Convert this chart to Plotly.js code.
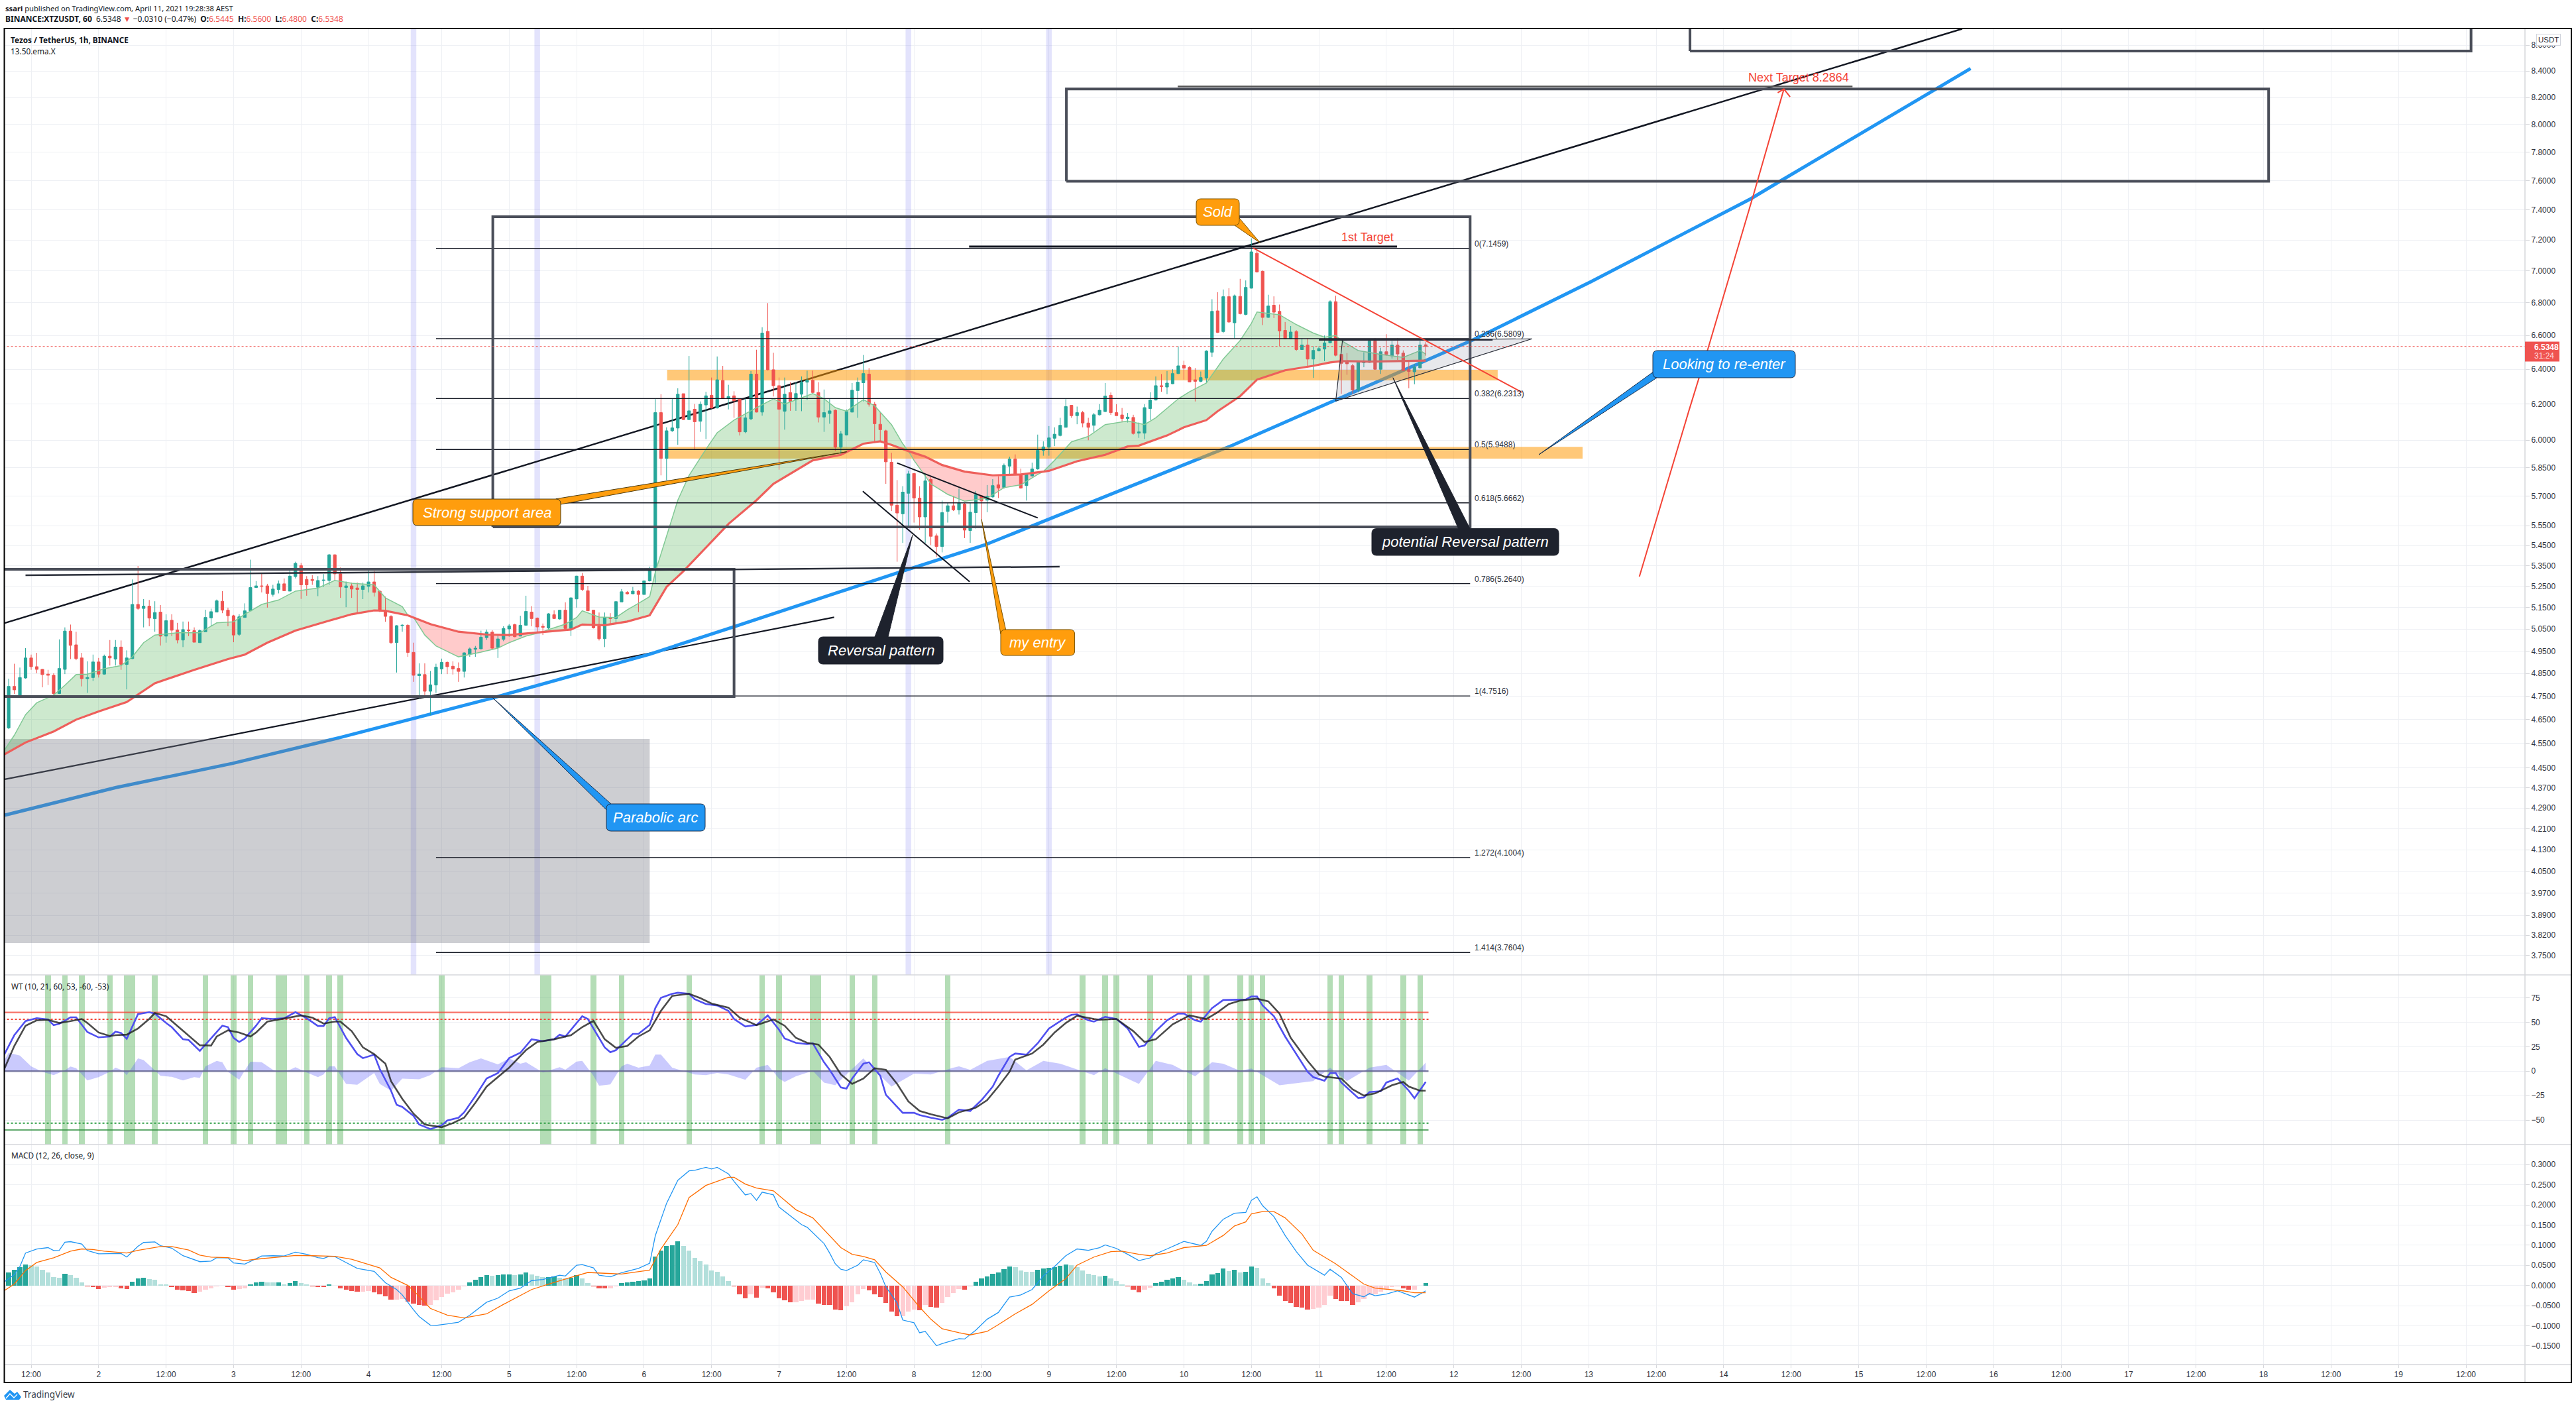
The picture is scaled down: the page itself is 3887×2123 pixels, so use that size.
<!DOCTYPE html>
<html><head><meta charset="utf-8">
<script src="https://cdn.plot.ly/plotly-2.35.2.min.js"></script>
<style>html,body{margin:0;padding:0;background:#fff;overflow:hidden}</style></head>
<body><div id="chart" style="width:3887px;height:2123px"></div>
<script>
const firstBar = -4;
const opens = [4.615,4.793,4.751,4.830,4.919,4.880,4.868,4.847,4.842,4.762,
4.868,5.041,4.978,4.919,4.827,4.832,4.901,4.847,4.927,4.914,
4.968,4.890,4.916,5.165,5.146,5.157,5.098,5.129,5.018,5.091,
5.046,5.000,5.046,5.043,4.988,5.038,5.102,5.129,5.180,5.138,
5.112,5.026,5.104,5.135,5.245,5.253,5.253,5.212,5.236,5.263,
5.228,5.298,5.351,5.284,5.284,5.246,5.279,5.279,5.404,5.311,
5.245,5.253,5.243,5.236,5.251,5.272,5.228,5.135,5.109,4.988,
5.066,5.068,4.944,4.840,4.845,4.772,4.799,4.870,4.899,4.882,
4.872,4.859,4.936,4.958,4.960,5.011,5.036,4.966,5.003,5.051,
5.071,5.018,5.068,5.129,5.101,5.063,5.055,5.117,5.097,5.138,
5.053,5.191,5.300,5.230,5.138,5.063,5.006,5.104,5.099,5.177,
5.222,5.215,5.228,5.212,5.277,5.330,6.152,5.900,6.051,6.066,
6.259,6.113,6.171,6.104,6.195,6.250,6.178,6.335,6.232,6.247,
6.230,6.045,6.117,6.372,6.155,6.625,6.397,6.305,6.160,6.266,
6.226,6.256,6.325,6.336,6.266,6.127,6.147,6.165,5.961,6.028,
6.155,6.277,6.322,6.372,6.199,6.087,6.051,5.880,5.654,5.610,
5.716,5.820,5.691,5.594,5.788,5.498,5.445,5.622,5.651,5.630,
5.660,5.525,5.616,5.703,5.680,5.697,5.760,5.746,5.859,5.897,
5.815,5.756,5.807,5.844,5.944,5.961,6.010,6.025,6.070,6.193,
6.135,6.152,6.094,6.081,6.140,6.158,6.250,6.152,6.139,6.119,
6.125,6.038,6.038,6.175,6.223,6.305,6.297,6.316,6.375,6.423,
6.410,6.339,6.330,6.349,6.500,6.750,6.624,6.838,6.677,6.840,
6.728,6.891,7.114,6.998,6.710,6.785,6.747,6.631,6.580,6.624,
6.516,6.543,6.460,6.508,6.519,6.556,6.807,6.487,6.448,6.421,
6.280,6.438,6.440,6.567,6.400,6.503,6.479,6.543,6.495,6.400,
6.385,6.408,6.5445];
const highs = [4.827,4.893,4.876,4.963,4.934,4.942,4.870,4.866,4.851,5.003,
5.058,5.071,5.038,4.942,4.904,4.934,4.919,4.934,5.000,5.000,
4.998,4.953,5.284,5.349,5.190,5.186,5.180,5.162,5.119,5.119,
5.079,5.085,5.085,5.058,5.048,5.140,5.145,5.188,5.228,5.150,
5.116,5.119,5.170,5.380,5.276,5.311,5.263,5.258,5.279,5.289,
5.337,5.370,5.364,5.300,5.305,5.300,5.310,5.408,5.406,5.342,
5.274,5.269,5.269,5.269,5.327,5.325,5.228,5.202,5.114,5.068,
5.073,5.073,4.988,4.895,4.895,4.861,4.893,4.916,4.904,4.904,
4.899,4.944,4.966,4.973,5.043,5.048,5.045,5.023,5.063,5.073,
5.075,5.112,5.206,5.157,5.104,5.076,5.124,5.137,5.139,5.175,
5.198,5.302,5.315,5.253,5.138,5.127,5.127,5.124,5.180,5.238,
5.228,5.248,5.233,5.279,5.346,6.229,6.256,6.070,6.229,6.290,
6.259,6.478,6.201,6.215,6.270,6.352,6.475,6.420,6.310,6.273,
6.232,6.236,6.390,6.515,6.650,6.798,6.497,6.352,6.352,6.325,
6.325,6.358,6.392,6.392,6.325,6.283,6.229,6.170,6.050,6.170,
6.320,6.352,6.484,6.407,6.212,6.155,6.057,5.931,5.785,5.753,
5.834,5.822,5.753,5.815,5.803,5.510,5.678,5.666,5.703,5.740,
5.666,5.666,5.728,5.706,5.759,5.790,5.805,5.873,5.910,5.922,
5.846,5.815,5.878,6.030,5.993,6.077,6.070,6.123,6.233,6.193,
6.186,6.162,6.123,6.150,6.200,6.320,6.266,6.200,6.178,6.150,
6.140,6.097,6.200,6.267,6.358,6.372,6.390,6.400,6.535,6.450,
6.420,6.407,6.387,6.512,6.822,6.866,6.883,6.891,6.851,6.950,
6.940,7.211,7.132,7.004,6.850,6.840,6.789,6.682,6.657,6.632,
6.583,6.583,6.535,6.535,6.600,6.815,6.844,6.490,6.495,6.432,
6.451,6.500,6.575,6.583,6.527,6.608,6.567,6.583,6.511,6.448,
6.432,6.567,6.560];
const lows = [4.610,4.760,4.748,4.827,4.866,4.851,4.789,4.799,4.743,4.760,
4.847,4.914,4.909,4.793,4.765,4.817,4.832,4.845,4.885,4.885,
4.866,4.780,4.914,5.140,5.058,5.063,5.038,4.975,4.988,5.018,
4.985,4.968,5.018,4.990,4.988,5.038,5.063,5.129,5.124,5.063,
4.990,5.018,5.104,5.135,5.243,5.222,5.150,5.202,5.217,5.228,
5.228,5.289,5.191,5.206,5.258,5.204,5.248,5.258,5.279,5.196,
5.152,5.196,5.124,5.190,5.222,5.202,5.129,5.084,4.983,4.854,
5.038,4.924,4.813,4.741,4.746,4.669,4.765,4.847,4.847,4.845,
4.813,4.832,4.924,4.924,4.958,5.000,4.958,4.919,4.995,5.015,
5.013,5.018,5.066,5.063,5.033,5.023,5.048,5.097,5.094,5.051,
5.018,5.150,5.228,5.135,5.053,4.998,4.968,5.073,5.073,5.177,
5.212,5.215,5.129,5.212,5.274,5.267,5.810,5.785,6.045,5.974,
6.110,6.110,5.949,6.045,6.005,6.175,6.175,6.230,6.170,6.123,
6.025,6.038,6.110,6.153,6.135,6.393,6.243,5.840,6.057,6.162,
6.162,6.160,6.223,6.256,6.097,6.045,6.090,5.941,5.922,6.025,
6.153,6.123,6.215,6.186,5.993,5.993,5.765,5.624,5.370,5.463,
5.547,5.565,5.529,5.463,5.452,5.393,5.416,5.565,5.624,5.606,
5.487,5.463,5.535,5.582,5.618,5.693,5.691,5.740,5.815,5.810,
5.740,5.678,5.803,5.840,5.915,5.915,5.967,6.020,6.070,6.123,
6.087,6.070,5.999,6.045,6.135,6.155,6.139,6.135,6.103,6.097,
6.030,6.012,6.005,6.110,6.220,6.270,6.256,6.314,6.372,6.340,
6.325,6.215,6.325,6.320,6.472,6.615,6.615,6.677,6.583,6.728,
6.723,6.889,6.990,6.663,6.707,6.706,6.536,6.577,6.577,6.508,
6.514,6.412,6.350,6.505,6.448,6.553,6.476,6.259,6.368,6.259,
6.267,6.412,6.438,6.397,6.373,6.480,6.463,6.455,6.390,6.290,
6.313,6.405,6.480];
const closes = [4.793,4.778,4.832,4.919,4.880,4.868,4.845,4.842,4.762,4.872,
5.041,4.976,4.916,4.827,4.832,4.901,4.847,4.927,4.919,4.968,
4.890,4.919,5.165,5.146,5.157,5.101,5.127,5.018,5.089,5.045,
5.000,5.048,5.043,4.990,5.043,5.104,5.131,5.182,5.138,5.112,
5.023,5.107,5.135,5.245,5.253,5.251,5.217,5.238,5.263,5.230,
5.300,5.362,5.258,5.258,5.279,5.279,5.281,5.404,5.311,5.248,
5.253,5.238,5.236,5.253,5.272,5.222,5.135,5.109,4.988,5.066,
5.068,4.944,4.842,4.847,4.772,4.800,4.878,4.899,4.880,4.870,
4.859,4.942,4.960,4.963,5.013,5.036,4.963,5.005,5.053,5.065,
5.015,5.068,5.132,5.099,5.060,5.058,5.121,5.099,5.138,5.053,
5.196,5.300,5.236,5.135,5.056,5.006,5.104,5.099,5.178,5.225,
5.215,5.228,5.212,5.277,5.332,6.152,5.900,6.051,6.067,6.256,
6.113,6.162,6.101,6.199,6.247,6.178,6.339,6.232,6.243,6.219,
6.045,6.123,6.372,6.155,6.615,6.397,6.305,6.171,6.256,6.216,
6.260,6.325,6.336,6.266,6.127,6.152,6.162,5.961,6.034,6.158,
6.279,6.325,6.375,6.199,6.090,6.057,5.882,5.654,5.614,5.722,
5.818,5.691,5.594,5.781,5.496,5.445,5.616,5.651,5.630,5.666,
5.527,5.618,5.708,5.676,5.700,5.756,5.743,5.863,5.897,5.813,
5.743,5.813,5.844,5.944,5.963,6.012,6.032,6.081,6.186,6.135,
6.152,6.094,6.070,6.140,6.165,6.246,6.152,6.135,6.119,6.127,
6.036,6.045,6.180,6.223,6.305,6.300,6.320,6.375,6.420,6.407,
6.327,6.330,6.352,6.507,6.747,6.619,6.838,6.682,6.843,6.733,
6.896,7.123,6.994,6.710,6.780,6.742,6.628,6.580,6.621,6.516,
6.543,6.460,6.511,6.522,6.556,6.807,6.482,6.435,6.432,6.280,
6.445,6.445,6.567,6.400,6.503,6.487,6.543,6.490,6.392,6.387,
6.413,6.543,6.5348];

const emaFastBars = [-5,-3,-1,1,4,6,8,10,13,16,18,20,22,26,30,33,36,38,41,44,47,51,54,57,61,63,66,67,68,70,72,76,80,83,85,88,91,92,95,97,98,101,104,106,108,110,111,115,117,120,122,125,129,132,134,139,141,143,145,148,150,153,155,156,157,160,163,166,170,173,176,179,180,182,185,188,191,195,198,200,204,206,209,212,215,217,218,222,225,228,230,232,233,236,240,244,247,248];
const emaFast = [4.514,4.584,4.671,4.722,4.755,4.798,4.845,4.847,4.871,4.885,4.924,4.988,5.023,5.033,5.033,5.079,5.084,5.119,5.165,5.186,5.228,5.243,5.279,5.266,5.258,5.196,5.155,5.114,5.104,5.023,4.973,4.924,4.945,4.963,4.988,5.018,5.037,5.048,5.073,5.104,5.135,5.106,5.104,5.140,5.170,5.202,5.320,5.680,5.810,5.950,6.040,6.110,6.180,6.230,6.200,6.260,6.230,6.180,6.160,6.226,6.190,6.085,5.980,5.940,5.890,5.765,5.710,5.675,5.690,5.745,5.760,5.815,5.830,5.890,5.990,6.020,6.085,6.105,6.085,6.123,6.230,6.270,6.320,6.460,6.570,6.674,6.743,6.726,6.666,6.615,6.590,6.600,6.570,6.510,6.487,6.470,6.510,6.490];
const emaSlowBars = [-5,-1,4,8,12,17,22,29,35,38,42,47,53,57,61,63,67,71,76,81,85,90,91,96,98,102,106,110,113,116,124,129,132,139,144,148,151,153,156,159,162,166,171,176,180,181,186,191,195,197,202,205,209,211,215,218,223,228,231,233,238,243,248];
const emaSlow = [4.502,4.554,4.600,4.650,4.685,4.725,4.807,4.866,4.914,4.934,4.988,5.043,5.089,5.119,5.137,5.135,5.114,5.073,5.038,5.025,5.023,5.035,5.037,5.048,5.071,5.068,5.085,5.114,5.248,5.324,5.558,5.680,5.765,5.890,5.920,5.980,5.993,5.974,5.940,5.910,5.865,5.830,5.810,5.815,5.830,5.834,5.885,5.920,5.965,5.970,6.025,6.070,6.110,6.160,6.245,6.340,6.394,6.420,6.440,6.448,6.445,6.448,6.451];
const emaZones = [[-5,67,'g'],[67,91,'r'],[91,156,'g'],[156,180,'r'],[180,248,'g']];

const wtBlueBars = [-5,-3,-1,1,3,4,5,7,8,10,12,14,15,16,17,19,21,22,24,25,27,28,30,31,34,35,36,37,38,40,41,43,45,47,49,51,52,53,54,56,58,59,61,62,64,65,66,68,69,71,73,74,76,77,79,81,83,85,87,89,91,93,94,95,97,98,99,101,102,103,104,106,107,108,110,111,112,114,115,117,118,120,122,124,125,127,129,131,133,134,136,138,139,141,142,144,145,146,148,149,151,152,154,155,157,158,160,162,163,165,167,169,171,172,174,175,177,179,181,184,185,186,188,189,191,193,195,197,198,200,202,204,205,207,208,210,212,214,216,217,218,219,221,223,225,227,228,230,231,232,233,236,237,238,240,241,243,245,246,248];
const wtBlue = [14.6,36.7,51.1,54.1,52.8,47,48.3,55,55,40,34.5,35.4,40.3,39,33.1,58.3,60.2,58.8,49.2,45,32.6,31.8,20.7,27,46.4,45,34,29.8,33.4,46.4,54.1,53.3,54.1,60.2,54.1,46.1,46.1,54.1,55.2,34,17.4,13.3,16.9,2.2,-19.9,-34.3,-36.5,-45.6,-54.4,-59.1,-55.2,-50.3,-47.5,-42,-25.4,-7.5,-1.9,13.3,18.8,32.6,30.7,32.6,37.3,35.4,49.2,56.1,53.3,33.4,24.3,19.3,21.5,32.6,38.1,38.1,47.2,64.4,74.9,79,80.1,79,73.5,68.5,67.1,61.6,53.3,45.6,47.2,56.9,42.3,33.4,29,27.6,28.5,9.1,1.4,-16.6,-17.7,-7.5,7.7,9.1,-4.7,-24,-36.5,-42.5,-42.5,-44.8,-47.5,-49.7,-47.5,-39.2,-40.6,-29.6,-15.7,-4.7,14.6,18,16.9,28.5,43.6,54.7,57.5,58,51.9,50.6,55.5,53.3,43.6,24.9,26.2,40.9,51.9,58.8,58.8,51.9,50.6,64.4,72.7,72.7,73.2,76.2,76.2,67.1,56.1,35.4,17.4,-0.6,-6.1,-9.7,-1.9,-1.9,-11.6,-27.3,-26.8,-21.3,-20.4,-11.6,-7.5,-19.9,-27.6,-11];
const wtBlackBars = [-5,-3,-1,1,3,5,7,9,10,12,14,15,17,19,21,22,24,26,28,30,32,33,35,37,39,40,42,44,46,48,50,52,54,55,57,59,61,63,64,66,68,70,73,75,77,79,81,85,88,90,93,96,98,100,102,104,106,108,110,112,114,117,119,121,124,126,129,132,134,136,138,140,142,144,146,148,150,152,154,156,158,160,163,165,168,170,172,174,175,178,180,182,184,186,189,190,193,196,198,200,203,206,209,211,213,215,218,220,222,224,227,229,230,233,235,237,239,242,244,245,247,248];
const wtBlack = [-0.6,25.7,46.4,51.9,52.5,49.2,51.1,53.3,49.2,39.5,35.9,36.7,37.3,43.6,53.3,59.4,56.1,46.4,36.7,26.5,26.2,35.4,41.7,39.5,35.4,39.5,50.6,52.8,54.7,56.9,54.7,48.6,50.6,50.6,40.9,24.3,17.4,7.7,-10.2,-28.2,-43.4,-54.4,-57.2,-53,-47.5,-32.3,-15.7,3.6,21.5,29.8,32.6,36.7,45,51.4,32.6,23.8,25.7,35.4,41.7,61.6,76.8,79,74.6,69.1,64.9,54.7,47,52.8,46.4,34,29,27.1,14.6,-3.3,-13,-7.5,3,1.4,-13,-30.9,-40.6,-43.9,-48.1,-42,-37.3,-29.6,-15.7,-0.6,11.9,18,27.1,39.5,49.2,56.6,53.3,52.5,53.3,40.9,29.8,32.6,47.8,56.9,53.3,60.2,68.5,72.1,74,71.3,58.8,34,10.5,-3.3,-5.5,-7.5,-18.5,-24.9,-22.7,-14.4,-11,-15.7,-19.9,-19.9];
const wtAreaBars = [-5,-4,-2,0,2,4,6,7,8,10,12,14,15,16,17,19,20,22,23,25,27,29,30,31,33,34,35,37,38,39,41,43,44,46,47,49,51,52,53,54,56,58,61,62,64,66,69,71,73,76,78,80,83,85,87,88,91,94,95,97,98,100,101,103,105,106,108,110,111,112,114,118,120,122,124,127,129,131,133,134,136,139,141,143,146,148,150,153,157,160,164,165,167,170,174,177,180,183,189,191,197,200,203,207,210,212,215,217,222,228,231,234,238,241,245,248];
const wtArea = [9.1,18.8,16,5,-0.6,-4.1,0.8,4.7,3,-9.4,-6.1,-0.6,3.6,1.4,-4.1,13,11.3,0.8,-4.7,-5.8,-9.4,-6.1,-6.9,5,10.5,9.1,-0.6,-8.8,0.8,9.6,9.1,1.4,-0.6,1.4,4.1,-1.4,-6.1,-3.3,5,5,-13,-13.8,-1.9,-13,-19.9,-7.5,-8.3,-4.1,4.1,3,9.1,13,6.9,13,7.7,9.1,-1.4,4.1,1.6,9.9,10.5,-4.7,-14.9,-13.5,5,7.7,3.6,5.8,16.9,16.9,3.6,-3.3,-4.1,-1.9,-3.3,-8.8,3.6,6.4,-7.5,-11,-5.2,0.3,-11.6,-14.4,2.2,13,0.8,-15.7,-2.5,-3.3,3.6,5,1.4,10.5,14.6,0.8,10.5,7.7,-4.1,3,-13,10.5,6.4,-5.2,9.1,7.7,0.3,2.8,-14.4,-10.2,3.6,-10.2,3.6,6.4,-9.6,8.6];
const wtCrossBars = [3,6,9,14,17,18,22,31,36,39,44,45,49,53,55,73,91,92,100,105,117,130,133,139,140,146,150,163,187,191,193,199,206,209,215,217,219,231,233,238,244,247];
const wtLevels = [60,53,-53,-60,0];

const macdHist = [.0315,.0389,.0456,.0516,.0503,.0470,.0389,.0322,.0215,.0195,
.0282,.0255,.0188,.0080,-.0020,-.0034,-.0081,-.0060,-.0047,-.0034,
-.0067,-.0081,.0087,.0168,.0188,.0161,.0147,.0034,.0020,-.0034,
-.0101,-.0114,-.0134,-.0181,-.0154,-.0101,-.0067,-.0020,-.0007,-.0040,
-.0101,-.0087,-.0067,.0020,.0074,.0094,.0074,.0073,.0075,.0034,
.0067,.0107,.0060,.0034,-.0020,-.0034,-.0047,.0020,-.0013,-.0067,
-.0101,-.0141,-.0154,-.0147,-.0141,-.0168,-.0221,-.0268,-.0355,-.0350,
-.0335,-.0402,-.0456,-.0489,-.0503,-.0489,-.0369,-.0288,-.0201,-.0168,
-.0101,-.0020,.0080,.0134,.0201,.0255,.0248,.0255,.0275,.0281,
.0255,.0281,.0315,.0281,.0241,.0201,.0205,.0221,.0188,.0174,
.0188,.0261,.0181,.0067,-.0020,-.0067,-.0074,-.0072,-.0020,.0054,
.0074,.0087,.0101,.0127,.0174,.0724,.0858,.0985,.1005,.1092,
.0985,.0871,.0690,.0603,.0516,.0369,.0335,.0221,.0114,-.0020,
-.0221,-.0315,-.0214,-.0302,-.0060,-.0080,-.0168,-.0322,-.0369,-.0415,
-.0412,-.0382,-.0348,-.0345,-.0449,-.0482,-.0485,-.0603,-.0616,-.0516,
-.0415,-.0221,-.0087,-.0114,-.0214,-.0281,-.0436,-.0650,-.0771,-.0757,
-.0650,-.0603,-.0610,-.0482,-.0536,-.0543,-.0436,-.0288,-.0188,-.0087,
-.0101,-.0020,.0087,.0168,.0221,.0288,.0322,.0402,.0469,.0456,
.0369,.0342,.0335,.0389,.0422,.0436,.0462,.0482,.0516,.0503,
.0449,.0375,.0288,.0255,.0221,.0241,.0168,.0114,.0034,-.0020,
-.0101,-.0168,-.0101,-.0054,.0054,.0094,.0134,.0168,.0201,.0147,
.0080,.0034,.0047,.0101,.0281,.0302,.0422,.0355,.0389,.0322,
.0335,.0469,.0436,.0181,.0060,-.0080,-.0255,-.0382,-.0436,-.0536,
-.0556,-.0596,-.0583,-.0556,-.0482,-.0255,-.0335,-.0382,-.0385,-.0482,
-.0415,-.0335,-.0235,-.0221,-.0147,-.0087,-.0034,-.0020,-.0080,-.0107,
-.0101,-.0005,.0067];
const macdBars = [-5,-3,-2,-1,1,3,4,5,6,7,9,10,12,14,16,17,19,20,22,23,25,27,28,30,32,33,35,36,38,40,41,43,45,47,49,51,52,53,54,56,58,61,63,65,66,68,69,71,72,74,76,78,81,83,85,87,89,91,93,94,95,97,98,100,101,103,105,108,110,111,113,115,117,118,120,121,122,124,125,127,128,129,130,132,133,136,137,138,141,142,143,144,145,147,148,150,151,152,154,155,157,158,159,161,162,165,166,168,170,172,174,176,178,180,182,184,186,188,190,191,193,195,197,199,200,202,205,208,209,210,212,214,216,217,218,219,221,223,225,227,229,230,231,233,235,237,238,239,241,243,246,248];
const macdLine = [.0067,.0268,.047,.0805,.0906,.0939,.0866,.0872,.1074,.1087,.1027,.0866,.0785,.0785,.0792,.0705,.0973,.1067,.108,.0986,.0926,.0738,.0691,.059,.0604,.0691,.0684,.0557,.053,.0657,.0731,.0738,.0731,.0825,.0771,.0691,.0671,.0724,.0718,.057,.0423,.0349,.0067,-.0101,-.0235,-.0604,-.0772,-.0987,-.0993,-.0953,-.0913,-.0738,-.0416,-.0315,-.0134,-.0067,.0121,.0148,.0215,.0255,.0235,.0503,.0517,.0436,.0255,.0215,.0315,.0423,.055,.1235,.2039,.261,.2845,.2858,.2932,.2892,.2932,.2771,.2583,.2248,.2281,.2114,.2315,.2248,.1946,.161,.151,.1443,.104,.0805,.0537,.0403,.0369,.0503,.0637,.057,.0302,-.0034,-.0436,-.0859,-.0926,-.1174,-.1141,-.1496,-.1443,-.1322,-.1329,-.1107,-.0839,-.0671,-.0289,-.0235,-.0101,.0235,.047,.0738,.0906,.0872,.0939,.1007,.0919,.0772,.0617,.0684,.0785,.0906,.1094,.0993,.1094,.1342,.1644,.1792,.1812,.2114,.2201,.1979,.1711,.1241,.0839,.0503,.0336,.0255,.0403,.0201,-.0201,-.0282,-.0201,-.0255,-.0215,-.0134,-.0289,-.0134];
const signalBars = [-5,-3,-1,1,4,5,7,9,11,13,17,19,23,25,28,30,32,35,38,40,43,47,50,54,57,60,62,64,67,69,71,74,77,81,84,89,92,96,99,102,105,110,112,115,117,120,124,125,127,129,132,134,136,139,141,144,146,148,150,152,155,158,160,162,165,167,170,172,175,178,181,184,186,189,192,194,197,199,202,205,209,212,214,216,217,219,221,223,226,228,230,232,235,237,239,242,244,246,248];
const signalLine = [-.0148,.0034,.0369,.057,.0685,.0738,.0852,.0906,.0892,.0852,.0805,.0872,.0966,.0966,.0879,.0751,.0704,.0691,.0617,.0651,.0691,.0745,.0738,.0724,.0651,.0523,.0436,.0201,0,-.0268,-.057,-.0738,-.0805,-.0705,-.047,-.0101,.0034,.0201,.0322,.0302,.0282,.0382,.0906,.151,.2181,.2483,.2684,.2684,.2516,.2416,.2349,.2114,.1879,.1678,.1376,.0939,.0772,.0718,.0637,.0336,-.0034,-.0537,-.0839,-.1074,-.1174,-.1228,-.1141,-.0973,-.0705,-.047,-.0134,.0168,.0503,.0705,.0839,.0852,.0772,.0738,.0805,.0939,.0993,.1241,.1476,.1577,.1778,.1832,.1832,.1678,.1275,.0872,.0705,.0537,.0235,.0034,-.0067,-.0114,-.0134,-.0181,-.0181];

const priceTicks = [8.6,8.4,8.2,8.0,7.8,7.6,7.4,7.2,7.0,6.8,6.6,6.4,6.2,6.0,5.85,5.7,5.55,5.45,5.35,5.25,5.15,5.05,4.95,4.85,4.75,4.65,4.55,4.45,4.37,4.29,4.21,4.13,4.05,3.97,3.89,3.82,3.75];
const wtTicks = [75,50,25,0,-25,-50];
const macdTicks = [.3,.25,.2,.15,.1,.05,0,-.05,-.1,-.15];
const timeTickBars = [0,12,24,36,48,60,73,85,97,109,121,133,145,157,169,181,193,205,217,229,241,253,265,277,289,301,313,325,337,349,361,373,385,397,409,421,433];
const timeTickLabels = ['12:00','2','12:00','3','12:00','4','12:00','5','12:00','6','12:00','7','12:00','8','12:00','9','12:00','10','12:00','11','12:00','12','12:00','13','12:00','14','12:00','15','12:00','16','12:00','17','12:00','18','12:00','19','12:00'];

const fibLevels = ['0','0.236','0.382','0.5','0.618','0.786','1','1.272','1.414'];
const fibPrices = [7.1459,6.5809,6.2313,5.9488,5.6662,5.2640,4.7516,4.1004,3.7604];
const fibSpan = [72,255.9];
const highlightBars = [68,90,156,181];
const lastPrice = 6.5348;

const channelUpperBars = [-4.7,343.4], channelUpper = [5.078,8.729];
const channelLowerBars = [-4.7,142.8], channelLower = [4.404,5.105];
const arcBars = [-4.7,15.1,35.8,54.8,82.1,110,125.2,154.5,169.6,188.7,213.6,232.4,256.5,277.4,305.8,311.1,338.9,344.9];
const arcPrices = [4.262,4.371,4.468,4.574,4.743,4.936,5.063,5.32,5.453,5.671,5.971,6.229,6.575,6.932,7.476,7.599,8.265,8.419];
const arrowBars = [286,294.8,298.1,306.2,311.7], arrowPrices = [5.298,6.162,6.51,7.492,8.263];
const arrowHeadBars = [310.6,311.7,312.8], arrowHeadPrices = [8.235,8.263,8.205];
const zoneGrey = [-5,110,3.793,4.569];
const zoneBands = [[113.1,260.8,6.335,6.397],[113.1,275.9,5.899,5.963]];
const boxes = [[-5,125,4.749,5.333],[82.1,255.9,5.543,7.355],[184.1,397.9,7.597,8.263],[295,433.9,8.555,9.0]];

// ---- geometry of the page ----
const W=3887,H=2123;
const L=6.5,R=3810,FR=3880,T0=43,T1=1471,T2=1727,T3=2059,FB=2086;
const X=p=>p/W, Y=p=>1-p/H;
const priceAt=y=>6*Math.exp((664-y)/1655);
const logRange=[Math.log10(priceAt(T1)),Math.log10(priceAt(T0))];
const xRange=[(L-47)/8.485,(R-47)/8.485];
const wtRange=[-74.9,98.3], macdRange=[-.1964,.3497];
const bars=opens.map((_,i)=>firstBar+i);
const grid='#eef0f4', ink='#131722', sep='#d6d7db';
const nobody={showlegend:false,hoverinfo:'skip',xaxis:'x'};

function rectPath(list){const xs=[],ys=[];list.forEach(b=>{xs.push(b[0],b[1],b[1],b[0],b[0],null);ys.push(b[2],b[2],b[3],b[3],b[2],null);});return {x:xs,y:ys};}
function polyFill(list,color,yaxis){const r=rectPath(list);return Object.assign({type:'scatter',mode:'none',fill:'toself',fillcolor:color,yaxis:yaxis},r,nobody);}
function line(x,y,color,width,yaxis,dash){return Object.assign({type:'scatter',mode:'lines',x:x,y:y,yaxis:yaxis,line:{color:color,width:width,dash:dash||'solid'}},nobody);}

const traces=[];
// base layer : highlights, trend lines, zones
traces.push(polyFill(highlightBars.map(b=>[b-.5,b+.5,3,10]),'rgba(115,115,240,0.2)','y'));
traces.push(line(channelUpperBars,channelUpper,ink,2.5,'y'));
traces.push(line(channelLowerBars,channelLower,ink,2.2,'y'));
traces.push(line(arcBars,arcPrices,'#2196f3',5,'y'));
traces.push(polyFill([zoneGrey],'rgba(120,123,134,0.37)','y'));
traces.push(polyFill(zoneBands,'rgba(255,152,0,0.53)','y'));
// EMA cloud
['g','r'].forEach(c=>{
  const xs=[],ys=[];
  emaZones.filter(z=>z[2]===c).forEach(z=>{
    emaFastBars.forEach((b,i)=>{if(b>=z[0]&&b<=z[1]){xs.push(b);ys.push(emaFast[i]);}});
    const back=[];emaSlowBars.forEach((b,i)=>{if(b>=z[0]&&b<=z[1])back.push([b,emaSlow[i]]);});
    back.reverse().forEach(p=>{xs.push(p[0]);ys.push(p[1]);});
    xs.push(null);ys.push(null);
  });
  traces.push(Object.assign({type:'scatter',mode:'none',fill:'toself',x:xs,y:ys,yaxis:'y4',fillcolor:c==='g'?'rgba(76,175,80,0.28)':'rgba(255,82,82,0.3)'},nobody));
});
// candles
traces.push(Object.assign({type:'candlestick',x:bars,open:opens,high:highs,low:lows,close:closes,yaxis:'y5',
  increasing:{line:{color:'#26a69a',width:1},fillcolor:'#26a69a'},
  decreasing:{line:{color:'#ef5350',width:1},fillcolor:'#ef5350'}},nobody));
// top layer
traces.push(line(emaFastBars,emaFast,'#81c995',1.5,'y6'));
traces.push(line(emaSlowBars,emaSlow,'#ee5f5b',3.2,'y6'));
{const xs=[],ys=[];fibPrices.forEach(p=>{xs.push(fibSpan[0],fibSpan[1],null);ys.push(p,p,null);});traces.push(line(xs,ys,ink,1.4,'y6'));}
{const r=rectPath(boxes);traces.push(line(r.x,r.y,'#4a4e59',4,'y6'));}
traces.push(line([-1,182.9],[5.304,5.346],'#2a2e39',2.5,'y6'));
traces.push(line([166.8,242.9],[7.158,7.158],ink,3,'y6'));
traces.push(line([203.9,323.9],[8.283,8.283],'#555',2.2,'y6'));
traces.push(line([229,259.9],[6.575,6.575],'#2a2e39',3,'y6'));
traces.push(Object.assign({type:'scatter',mode:'lines',x:[232,233.2,266.9,232],y:[6.217,6.571,6.58,6.217],yaxis:'y6',fill:'toself',fillcolor:'rgba(120,130,150,0.18)',line:{color:'#2a2e39',width:1.2}},nobody));
traces.push(line([147.9,166.9],[5.726,5.273],ink,2,'y6'));
traces.push(line([154,179],[5.876,5.589],ink,2,'y6'));
traces.push(line([217.3,265.1],[7.149,6.267],'#f44336',2,'y6'));
traces.push(line(arrowBars,arrowPrices,'#f44336',2,'y6'));
traces.push(line(arrowHeadBars,arrowHeadPrices,'#f44336',2,'y6'));
traces.push(line([-5,444],[lastPrice,lastPrice],'#ef5350',1,'y6','dot'));
// WT pane
traces.push(Object.assign({type:'bar',x:wtCrossBars,y:wtCrossBars.map(()=>wtRange[1]-wtRange[0]),base:wtCrossBars.map(()=>wtRange[0]),width:1,yaxis:'y2',marker:{color:'rgba(76,175,80,0.42)',line:{width:0}}},nobody));
traces.push(Object.assign({type:'scatter',mode:'none',x:wtAreaBars,y:wtArea,fill:'tozeroy',fillcolor:'rgba(90,90,250,0.32)',yaxis:'y2'},nobody));
const wtEnd=[-5,248.5];
traces.push(line(wtEnd,[wtLevels[0],wtLevels[0]],'rgba(244,67,54,0.75)',2.2,'y2'));
traces.push(line(wtEnd,[wtLevels[1],wtLevels[1]],'#f44336',2,'y2','dot'));
traces.push(line(wtEnd,[wtLevels[2],wtLevels[2]],'#2e9e45',2,'y2','dot'));
traces.push(line(wtEnd,[wtLevels[3],wtLevels[3]],'rgba(46,140,60,0.75)',2.2,'y2'));
traces.push(line(wtEnd,[wtLevels[4],wtLevels[4]],'rgba(95,95,140,0.8)',2.6,'y2'));
traces.push(line(wtBlueBars,wtBlue,'#5050f0',2.6,'y2'));
traces.push(line(wtBlackBars,wtBlack,'rgba(30,30,30,0.8)',2.6,'y2'));
// MACD pane
const histColors=macdHist.map((v,i)=>{const p=i?macdHist[i-1]:v;return v>=0?(v>=p?'#26a69a':'#b2dfdb'):(v<p?'#ef5350':'#ffcdd2');});
traces.push(Object.assign({type:'bar',x:bars,y:macdHist,width:.86,yaxis:'y3',marker:{color:histColors,line:{width:0}}},nobody));
traces.push(line(macdBars,macdLine,'#2196f3',1.3,'y3'));
traces.push(line(signalBars,signalLine,'#ff6d00',1.3,'y3'));

// callouts (page pixels)
function rr(x0,y0,x1,y1,r){const a=X(x0),b=X(x1),c=Y(y0),d=Y(y1),rx=r/W,ry=r/H;
  return `M ${a+rx} ${c} L ${b-rx} ${c} Q ${b} ${c} ${b} ${c-ry} L ${b} ${d+ry} Q ${b} ${d} ${b-rx} ${d} L ${a+rx} ${d} Q ${a} ${d} ${a} ${d+ry} L ${a} ${c-ry} Q ${a} ${c} ${a+rx} ${c} Z`;}
function tri(p){return 'M '+p.map(q=>X(q[0])+' '+Y(q[1])).join(' L ')+' Z';}
const ORG='#ff9d0d',BLU='#2196f3',DRK='#1e222d';
const callouts=[
 {t:'Sold',box:[1805,300,1870,340],w:[[1870,329],[1901.5,366.5],[1863,340]],c:ORG,b:'#7a5200'},
 {t:'Strong support area',box:[623,753,846,793],w:[[839,752.7],[1277.7,681.7],[846,761]],c:ORG,b:'#4a3a10'},
 {t:'Parabolic arc',box:[915,1213,1064,1254],w:[[922,1213],[743.6,1053],[915,1222]],c:BLU,b:'#1c2f4a'},
 {t:'Reversal pattern',box:[1235,961,1423,1002],w:[[1320,961],[1377,807.5],[1340,961]],c:DRK,b:DRK},
 {t:'my entry',box:[1510,950,1621.6,989],w:[[1510,957],[1481,783.6],[1517.6,950]],c:ORG,b:'#7a5200'},
 {t:'potential Reversal pattern',box:[2070,797.6,2352,838],w:[[2200.6,797.6],[2101.8,569.8],[2218,797.6]],c:DRK,b:DRK},
 {t:'Looking to re-enter',box:[2494,529,2709,570],w:[[2494,561.6],[2322,686],[2500,570]],c:BLU,b:'#1c2f4a'}
];
const shapes=[];const ann=[];
const textFont='"Liberation Sans","Open Sans",sans-serif';
callouts.forEach(c=>{
  shapes.push({type:'path',xref:'paper',yref:'paper',path:tri(c.w),fillcolor:c.c,line:{color:c.b,width:1}});
  shapes.push({type:'path',xref:'paper',yref:'paper',path:rr(c.box[0],c.box[1],c.box[2],c.box[3],7),fillcolor:c.c,line:{color:c.b,width:1}});
  ann.push({xref:'paper',yref:'paper',x:X((c.box[0]+c.box[2])/2),y:Y((c.box[1]+c.box[3])/2),text:'<i>'+c.t+'</i>',showarrow:false,xanchor:'center',yanchor:'middle',font:{family:textFont,size:22,color:'#fff'}});
});
// frame and separators
function seg(x0,y0,x1,y1,c,w){shapes.push({type:'line',xref:'paper',yref:'paper',x0:X(x0),y0:Y(y0),x1:X(x1),y1:Y(y1),line:{color:c,width:w}});}
seg(L,T1,FR,T1,sep,1.5);seg(L,T2,FR,T2,sep,1.5);seg(L,T3,FR,T3,sep,1.5);seg(R,T0,R,FB,sep,1.5);
shapes.push({type:'rect',xref:'paper',yref:'paper',x0:X(L),y0:Y(FB),x1:X(FR),y1:Y(T0),line:{color:'#000',width:2},fillcolor:'rgba(0,0,0,0)'});
// price tag
shapes.push({type:'rect',xref:'paper',yref:'paper',x0:X(R),x1:X(3862),y0:Y(515.6),y1:Y(545.5),fillcolor:'#ef5350',line:{width:0}});
// logo
shapes.push({type:'path',xref:'paper',yref:'paper',fillcolor:'#2196f3',line:{width:0},
 path:'M '+[[6,2106],[15,2097],[22,2103],[26,2100],[32,2108],[29,2112],[9,2112]].map(q=>X(q[0])+' '+Y(q[1])).join(' L ')+' Z'});
shapes.push({type:'path',xref:'paper',yref:'paper',fillcolor:'rgba(255,255,255,0)',line:{color:'#fff',width:1.4},
 path:'M '+[[9,2110],[15,2103],[21,2109],[26,2104]].map(q=>X(q[0])+' '+Y(q[1])).join(' L ')});

function label(px,py,text,size,color,anchor,family){ann.push({xref:'paper',yref:'paper',x:X(px),y:Y(py),text:text,showarrow:false,xanchor:anchor||'left',yanchor:'middle',font:{family:family||'"Noto Sans",sans-serif',size:size,color:color||ink}});}
const red='#ef5350';
label(6,13,'<b>ssari</b> published on TradingView.com, April 11, 2021 19:28:38 AEST',11.2);
label(6,29,`<b>BINANCE:XTZUSDT, 60</b>\u00a0\u00a06.5348\u00a0<span style="color:${red}">▼</span>\u00a0−0.0310 (−0.47%)\u00a0\u00a0<b>O:</b><span style="color:${red}">6.5445</span>\u00a0\u00a0<b>H:</b><span style="color:${red}">6.5600</span>\u00a0\u00a0<b>L:</b><span style="color:${red}">6.4800</span>\u00a0\u00a0<b>C:</b><span style="color:${red}">6.5348</span>`,12);
label(14,60,'<b>Tezos / TetherUS, 1h, BINANCE</b>',11.8);
label(14,77,'13.50.ema.X',11.8);
label(15,1488,'WT (10, 21, 60, 53, -60, -53)',11.8);
label(15,1743,'MACD (12, 26, close, 9)',11.8);
label(33,2104,'TradingView',13.5,'#3a3f4b');
label(2063.5,358,'1st Target',18,'#f44336','center',textFont);
label(2713.5,117,'Next Target 8.2864',18,'#f44336','center',textFont);
label(3822,524,'<b>6.5348</b>',12,'#fff','left',textFont);
label(3822,537,'31:24',12,'#ffdcdc','left',textFont);
ann.push({xref:'paper',yref:'paper',x:X(3845),y:Y(59.5),text:'USDT',showarrow:false,xanchor:'center',yanchor:'middle',bgcolor:'#fff',bordercolor:'#d1d4dc',borderwidth:1,borderpad:2,font:{family:textFont,size:11.5,color:'#2a2e39'}});
fibLevels.forEach((lv,i)=>{ann.push({xref:'x',yref:'y',x:256.4,y:Math.log10(fibPrices[i]),yshift:7,text:lv+'('+fibPrices[i].toFixed(4)+')',showarrow:false,xanchor:'left',yanchor:'middle',font:{family:textFont,size:12,color:'#2a2e39'}});});

const tickFont={family:textFont,size:12,color:'#2f333d'};
const yBase={side:'right',ticks:'outside',ticklen:6,tickcolor:sep,tickfont:tickFont,gridcolor:grid,gridwidth:1,showgrid:true,zeroline:false,showline:false,tickmode:'array',fixedrange:true,anchor:'x'};
const overlay={overlaying:'y',type:'log',range:logRange,visible:false,anchor:'x',fixedrange:true};
const dom=(a,b)=>[1-b/H,1-a/H];
const layout={width:W,height:H,autosize:false,margin:{l:0,r:0,t:0,b:0},paper_bgcolor:'#fff',plot_bgcolor:'#fff',showlegend:false,bargap:0,barmode:'overlay',
 xaxis:{domain:[X(L),X(R)],range:xRange,type:'linear',anchor:'y3',tickmode:'array',tickvals:timeTickBars,ticktext:timeTickLabels,ticks:'outside',ticklen:4,tickcolor:sep,tickfont:tickFont,gridcolor:grid,gridwidth:1,showgrid:true,zeroline:false,showline:false,rangeslider:{visible:false},fixedrange:true},
 yaxis:Object.assign({},yBase,{domain:dom(T0,T1),type:'log',range:logRange,tickvals:priceTicks,ticktext:priceTicks.map(v=>v.toFixed(4))}),
 yaxis2:Object.assign({},yBase,{domain:dom(T1,T2),type:'linear',range:wtRange,tickvals:wtTicks,ticktext:wtTicks.map(v=>String(v).replace('-','−'))}),
 yaxis3:Object.assign({},yBase,{domain:dom(T2,T3),type:'linear',range:macdRange,tickvals:macdTicks,ticktext:macdTicks.map(v=>v.toFixed(4).replace('-','−'))}),
 yaxis4:Object.assign({},overlay),yaxis5:Object.assign({},overlay),yaxis6:Object.assign({},overlay),
 shapes:shapes,annotations:ann};
Plotly.newPlot('chart',traces,layout,{staticPlot:true,displayModeBar:false});
</script></body></html>
